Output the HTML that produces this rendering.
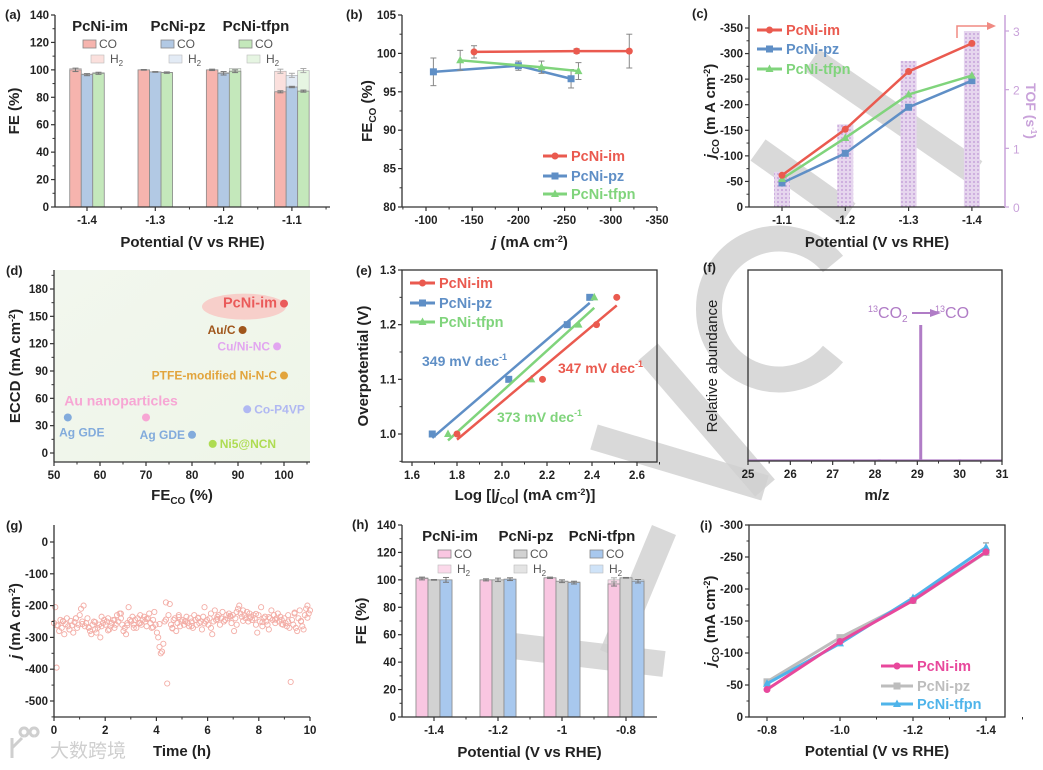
<!DOCTYPE html>
<html><head><meta charset="utf-8"><title>PcNi figure</title>
<style>
html,body{margin:0;padding:0;background:#fff;}
svg{display:block;font-family:"Liberation Sans","Noto Sans CJK SC",sans-serif;}
</style></head>
<body>
<svg id="fig" width="1043" height="770" viewBox="0 0 1043 770" xmlns="http://www.w3.org/2000/svg">
<defs>
<pattern id="dots" width="4" height="4" patternUnits="userSpaceOnUse"><rect width="4" height="4" fill="#e6d6ee"/><circle cx="2" cy="2" r="1" fill="#c6a4da"/></pattern>
<linearGradient id="dbg" x1="0" y1="0" x2="1" y2="1"><stop offset="0" stop-color="#f2f7ee"/><stop offset="1" stop-color="#eef5e8"/></linearGradient>
</defs>
</svg>
<script>
// ---------- data ----------
// (a)
const aCats=['-1.4','-1.3','-1.2','-1.1'];
const aCO_im=[100,100,100,84], aCO_pz=[96.5,98.5,97.5,87.5], aCO_tf=[97.5,98,99,84.5];
const aTot_im=[101,100,100,99], aTot_pz=[97,98.5,98,96], aTot_tf=[98,98.2,101,99.5];
const aErr_im=[2.5,0.5,1,1.5], aErr_pz=[1.5,0.5,2.5,1], aErr_tf=[1.5,1,2,1.5];
// (b)
const bX_im=[-152,-263,-320], bY_im=[100.2,100.3,100.3], bE_im=[0.8,0.3,2.2];
const bX_pz=[-108,-200,-257], bY_pz=[97.6,98.4,96.7], bE_pz=[1.8,0.6,1.2];
const bX_tf=[-137,-225,-265], bY_tf=[99.1,98.2,97.7], bE_tf=[1.3,0.8,1.1];
// (c)
const cCats=['-1.1','-1.2','-1.3','-1.4'];
const cJ_im=[62,152,265,320], cJ_pz=[47,105,195,247], cJ_tf=[55,135,220,257];
const cTOF=[0.6,1.41,2.49,3.0];
// (d)
const dLabels=['PcNi-im','Au/C','Cu/Ni-NC','PTFE-modified Ni-N-C','Au nanoparticles','Co-P4VP','Ag GDE','Ag GDE','Ni5@NCN'];
const dFE=[100,91,98.5,100,70,92,53,80,84.5];
const dECCD=[164,135,117,85,39,48,39,20,10];
// (e)
const eX_im=[1.80,2.18,2.42,2.51], eY_im=[1.0,1.1,1.2,1.25];
const eX_pz=[1.69,2.03,2.29,2.39], eY_pz=[1.0,1.1,1.2,1.25];
const eX_tf=[1.76,2.13,2.34,2.41], eY_tf=[1.0,1.1,1.2,1.25];
// (f)
const fMZ=[25.3,28.1,29.08,30.0], fAb=[0.6,1.2,100,1.2];
// (g)
const gJ=[-255,-205,-395,-262,-280,-245,-270,-250,-290,-258,-240,-265,-275,-248,-262,-285,-252,-240,-270,-260,
-230,-210,-250,-200,-265,-255,-240,-270,-280,-290,-260,-250,-275,-285,-270,-260,-300,-265,-255,-245,
-260,-250,-240,-275,-265,-255,-245,-270,-260,-230,-250,-225,-240,-260,-280,-270,-290,-255,-205,-245,
-250,-235,-260,-245,-270,-240,-255,-230,-260,-245,-235,-250,-265,-240,-225,-255,-270,-245,-220,-260,
-285,-300,-330,-350,-345,-320,-250,-190,-445,-230,-195,-260,-270,-245,-240,-280,-255,-230,-265,-250,
-245,-260,-250,-235,-255,-265,-240,-250,-270,-230,-245,-260,-240,-255,-250,-275,-235,-205,-250,-245,
-260,-240,-225,-290,-250,-215,-245,-235,-230,-260,-240,-220,-250,-245,-230,-240,-225,-235,-255,-230,
-280,-240,-220,-210,-200,-225,-235,-215,-230,-240,-220,-250,-225,-235,-245,-230,-240,-260,-285,-230,
-250,-205,-265,-240,-235,-250,-260,-275,-240,-215,-245,-230,-255,-240,-225,-250,-235,-245,-260,-240,
-255,-265,-250,-270,-440,-245,-260,-225,-270,-280,-240,-215,-250,-265,-275,-230,-210,-200,-225,-215];
const gJ2=[-262,-248,-275,-240,-258,-268,-252,-235,-278,-246,-225,-262,-270,-255,-242,-268,-258,-244,-272,-236,
-248,-264,-238,-256,-270,-242,-250,-232,-260,-248,-240,-226,-252,-236,-244,-258,-230,-222,-248,-238];
// (h)
const hCats=['-1.4','-1.2','-1','-0.8'];
const hCO_im=[101,100,101.5,97], hCO_pz=[100,100,99,101.5], hCO_tf=[100,100.5,98,99];
const hTot_im=[101.5,100,101.5,100], hTot_pz=[100,100,99,101.5], hTot_tf=[100,100.5,98.5,100];
const hErr_im=[2,1.5,1,3], hErr_pz=[0.5,2.5,2,0.5], hErr_tf=[3.5,2,2,2.5];
// (i)
const iCats=['-0.8','-1.0','-1.2','-1.4'];
const iJ_im=[43,118,182,258], iJ_pz=[55,124,182,257], iJ_tf=[52,115,186,265];

// ---------- helpers ----------
const NS='http://www.w3.org/2000/svg';
const svg=document.getElementById('fig');
function mk(tag,attrs,name,parent){
  const e=document.createElementNS(NS,tag);
  for(const k in attrs) e.setAttribute(k,attrs[k]);
  
  
  (parent||svg).appendChild(e);
  return e;
}
function txt(x,y,s,o,name){
  o=o||{};
  const t=mk('text',{x:x,y:y,'font-size':o.fs||11.5,'font-weight':o.fw||'bold',fill:o.fill||'#222','text-anchor':o.anchor||'middle'},name,o.parent);
  if(o.rot) t.setAttribute('transform','rotate('+o.rot+' '+x+' '+y+')');
  t.innerHTML=s;
  return t;
}
function lin(d0,d1,r0,r1){return v=>r0+(v-d0)*(r1-r0)/(d1-d0);}
function line(x1,y1,x2,y2,st,w,name){return mk('line',{x1,y1,x2,y2,stroke:st||'#333','stroke-width':w||1.2},name);}
function yTicks(x,sc,vals,fmt,name,opts){
  opts=opts||{};
  vals.forEach(v=>{const y=sc(v);line(x-4,y,x,y,'#333',1.2,name+'-tick');txt(x-6,y+4,fmt(v),{anchor:'end',fill:opts.fill},name+'-label');});
  if(opts.minor) opts.minor.forEach(v=>{const y=sc(v);line(x-2.5,y,x,y,'#333',1,name+'-minor-tick');});
}
function xTicks(y,sc,vals,fmt,name,opts){
  opts=opts||{};
  vals.forEach(v=>{const x=sc(v);line(x,y,x,y+4,'#333',1.2,name+'-tick');txt(x,y+17,fmt(v),{},name+'-label');});
  if(opts.minor) opts.minor.forEach(v=>{const x=sc(v);line(x,y,x,y+2.5,'#333',1,name+'-minor-tick');});
}
function marker(type,x,y,c,s,name){
  s=s||3.5;
  if(type==='c') return mk('circle',{cx:x,cy:y,r:s,fill:c},name);
  if(type==='s') return mk('rect',{x:x-s,y:y-s,width:2*s,height:2*s,fill:c},name);
  return mk('polygon',{points:`${x},${y-s-1} ${x-s-0.5},${y+s-0.5} ${x+s+0.5},${y+s-0.5}`,fill:c},name);
}
function series(xs,ys,c,type,name,w){
  const pts=xs.map((x,i)=>x+','+ys[i]).join(' ');
  mk('polyline',{points:pts,fill:'none',stroke:c,'stroke-width':w||2.5},name+'-line');
  xs.forEach((x,i)=>marker(type,x,ys[i],c,3.5,name+'-point'));
}
function legendRow(x1,x2,y,c,type,label,name){
  line(x1,y,x2,y,c,3,name+'-swatch');
  marker(type,(x1+x2)/2,y,c,3.5,name+'-marker');
  txt(x2+4,y+5,label,{anchor:'start',fill:c,fs:14.5},name+'-text');
}
function errbar(x,y0,y1,name,c){
  c=c||'#777';
  line(x,y0,x,y1,c,1,name);line(x-3,y0,x+3,y0,c,1,name+'-cap');line(x-3,y1,x+3,y1,c,1,name+'-cap');
}
const RED='#ea5a4f',BLUE='#5f8fc6',GREEN='#80d47c';
const range=(a,b,s)=>{const r=[];for(let v=a;v<=b+1e-9;v+=s)r.push(+v.toFixed(4));return r;};

// ---------- watermark (behind) ----------
const wm={stroke:'#cfcfcf','stroke-opacity':0.8,fill:'none','stroke-width':26};
function wmPath(d,name){return mk('path',Object.assign({d:d},wm),name);}
wmPath('M812,60 L975,172','watermark-stroke');
wmPath('M758,150 L848,214','watermark-stroke');
wmPath('M833,264 A70,70 0 0 0 709,309 A70,70 0 0 0 833,354','watermark-arc');
wmPath('M594,437 L765,488','watermark-stroke');
wmPath('M648,352 L765,488','watermark-stroke');
wmPath('M664,530 L612,655','watermark-stroke');
wmPath('M505,645 L664,664','watermark-stroke');

// ---------- bar panel helper ----------
function barPanel(o){
  const y=lin(0,140,o.bottom,o.top);
  const cx=i=>o.c0+i*o.dc;
  const off=[-o.bw,0,o.bw];
  const sets=[[o.co[0],o.tot[0],o.err[0]],[o.co[1],o.tot[1],o.err[1]],[o.co[2],o.tot[2],o.err[2]]];
  o.cats.forEach((c,i)=>{
    sets.forEach((s,k)=>{
      const x=cx(i)+off[k]-o.bw/2;
      mk('rect',{x:x,y:y(s[1][i]),width:o.bw,height:o.bottom-y(s[1][i]),fill:o.h2[k],stroke:'#aaa','stroke-width':0.6},o.name+'-h2-bar');
      mk('rect',{x:x,y:y(s[0][i]),width:o.bw,height:o.bottom-y(s[0][i]),fill:o.cof[k],stroke:'#8a8a8a','stroke-width':0.8},o.name+'-co-bar');
      errbar(x+o.bw/2,y(s[0][i]+s[2][i]/2),y(s[0][i]-s[2][i]/2),o.name+'-error-bar');
      if(s[1][i]-s[0][i]>2) errbar(x+o.bw/2,y(s[1][i]+1.5),y(s[1][i]-1.5),o.name+'-error-bar','#aaa');
    });
  });
  line(o.left,o.top,o.left,o.bottom,'#333',1.3,o.name+'-y-axis');
  line(o.left,o.bottom,o.right,o.bottom,'#333',1.3,o.name+'-x-axis');
  yTicks(o.left,y,range(0,140,20),v=>v,o.name+'-y',{minor:range(10,130,20)});
  o.cats.forEach((c,i)=>{line(cx(i),o.bottom,cx(i),o.bottom+4,'#333',1.2,o.name+'-x-tick');txt(cx(i),o.bottom+17,c,{},o.name+'-x-label');});
  [0,1,2,3,4].forEach(i=>{const xm=cx(i)-o.dc/2;if(xm>o.left&&xm<o.right)line(xm,o.bottom,xm,o.bottom+2.5,'#333',1,o.name+'-x-minor-tick');});
  const names=['PcNi-im','PcNi-pz','PcNi-tfpn'];
  names.forEach((n,k)=>{
    const gx=o.lgx+k*o.lgdx;
    txt(gx+o.titleDx,o.top+16,n,{fs:15},o.name+'-legend-title');
    mk('rect',{x:gx,y:o.top+25,width:13,height:8,fill:o.cof[k],stroke:'#888','stroke-width':0.8},o.name+'-legend-co-swatch');
    txt(gx+16,o.top+33,'CO',{anchor:'start',fw:'normal',fs:12,fill:'#555'},o.name+'-legend-co-text');
    mk('rect',{x:gx+(o.h2dx||0),y:o.top+40,width:13,height:8,fill:o.h2[k],stroke:'#bbb','stroke-width':0.6},o.name+'-legend-h2-swatch');
    txt(gx+(o.h2dx||0)+19,o.top+48,'H<tspan font-size="8" dy="3">2</tspan>',{anchor:'start',fw:'normal',fs:12,fill:'#555'},o.name+'-legend-h2-text');
  });
  txt(o.left-50,o.top+4,o.label,{anchor:'start',fs:13},o.name+'-panel-label');
  txt(o.left-36,(o.top+o.bottom)/2,'FE (%)',{rot:-90,fs:15},o.name+'-y-title');
  txt((o.left+o.right)/2,o.bottom+40,'Potential (V vs RHE)',{fs:15},o.name+'-x-title');
}

// ---------- (a) ----------
barPanel({name:'panel-a',label:'(a)',left:55,right:330,top:15,bottom:207,c0:87,dc:68.3,bw:11.5,cats:aCats,
  co:[aCO_im,aCO_pz,aCO_tf],tot:[aTot_im,aTot_pz,aTot_tf],err:[aErr_im,aErr_pz,aErr_tf],
  cof:['#f6b4ae','#b2c9e4','#c4e8bb'],h2:['#fbe0dd','#e3ebf5','#e6f5e2'],lgx:83,lgdx:78,titleDx:17,h2dx:8});

// ---------- (b) ----------
(function(){
  const L=402,R=657,T=15,B=207;
  const x=lin(-100,-350,426,657), y=lin(80,105,B,T);
  [[bX_pz,bY_pz,bE_pz,BLUE,'s','pz'],[bX_tf,bY_tf,bE_tf,GREEN,'t','tfpn'],[bX_im,bY_im,bE_im,RED,'c','im']].forEach(s=>{
    s[0].forEach((v,i)=>errbar(x(v),y(s[1][i]+s[2][i]),y(s[1][i]-s[2][i]),'panel-b-error-bar','#888'));
    series(s[0].map(x),s[1].map(y),s[3],s[4],'panel-b-'+s[5]);
  });
  line(L,T,L,B,'#333',1.3,'panel-b-y-axis');line(L,B,R,B,'#333',1.3,'panel-b-x-axis');
  yTicks(L,y,range(80,105,5),v=>v,'panel-b-y',{minor:range(82.5,102.5,5)});
  xTicks(B,x,range(-350,-100,50),v=>v,'panel-b-x',{minor:range(-325,-75,50)});
  legendRow(543,567,156,RED,'c','PcNi-im','panel-b-legend-im');
  legendRow(543,567,176,BLUE,'s','PcNi-pz','panel-b-legend-pz');
  legendRow(543,567,194,GREEN,'t','PcNi-tfpn','panel-b-legend-tfpn');
  txt(346,19,'(b)',{anchor:'start',fs:13},'panel-b-label');
  txt(372,111,'FE<tspan font-size="10" dy="4">CO</tspan><tspan dy="-4"> (%)</tspan>',{rot:-90,fs:15},'panel-b-y-title');
  txt(530,247,'<tspan font-style="italic">j</tspan> (mA cm<tspan font-size="9" dy="-5">-2</tspan><tspan dy="5">)</tspan>',{fs:15},'panel-b-x-title');
})();

// ---------- (c) ----------
(function(){
  const L=749,R=1005,T=15,B=207;
  const y=lin(0,350,B,28), yt=lin(0,3,B,31);
  const cx=i=>782+i*63.3;
  cTOF.forEach((v,i)=>mk('rect',{x:cx(i)-8,y:yt(v),width:16,height:B-yt(v),fill:'url(#dots)'},'panel-c-tof-bar'));
  series(cJ_pz.map((v,i)=>cx(i)),cJ_pz.map(y),BLUE,'s','panel-c-pz');
  series(cJ_tf.map((v,i)=>cx(i)),cJ_tf.map(y),GREEN,'t','panel-c-tfpn');
  series(cJ_im.map((v,i)=>cx(i)),cJ_im.map(y),RED,'c','panel-c-im');
  line(L,T,L,B,'#333',1.3,'panel-c-y-axis');line(L,B,R,B,'#333',1.3,'panel-c-x-axis');
  line(R,T,R,B,'#c9a2da',1.5,'panel-c-right-axis');
  yTicks(L,y,range(0,350,50),v=>v?'-'+v:'0','panel-c-y',{minor:range(25,325,50)});
  [0,1,2,3].forEach(v=>{line(R,yt(v),R+4,yt(v),'#c9a2da',1.2,'panel-c-tof-tick');txt(R+8,yt(v)+5,v,{anchor:'start',fill:'#c9a2da',fs:12,fw:'normal'},'panel-c-tof-label');});
  cCats.forEach((c,i)=>{line(cx(i),B,cx(i),B+4,'#333',1.2,'panel-c-x-tick');txt(cx(i),B+17,c,{},'panel-c-x-label');});
  legendRow(757,782,30,RED,'c','PcNi-im','panel-c-legend-im');
  legendRow(757,782,49,BLUE,'s','PcNi-pz','panel-c-legend-pz');
  legendRow(757,782,69,GREEN,'t','PcNi-tfpn','panel-c-legend-tfpn');
  mk('path',{d:'M957,38 L957,26 L990,26',fill:'none',stroke:'#f08a82','stroke-width':1.5},'panel-c-axis-arrow');
  mk('polygon',{points:'996,26 987,22 987,30',fill:'#f08a82'},'panel-c-axis-arrow-head');
  txt(692,18,'(c)',{anchor:'start',fs:13},'panel-c-label');
  txt(715,111,'<tspan font-style="italic">j</tspan><tspan font-size="10" dy="4">CO</tspan><tspan dy="-4"> (m A cm</tspan><tspan font-size="9" dy="-5">-2</tspan><tspan dy="5">)</tspan>',{rot:-90,fs:15},'panel-c-y-title');
  txt(1026,111,'TOF (s<tspan font-size="8" dy="-5">-1</tspan><tspan dy="5">)</tspan>',{rot:90,fs:14,fill:'#c9a2da'},'panel-c-tof-title');
  txt(877,247,'Potential (V vs RHE)',{fs:15},'panel-c-x-title');
})();

// ---------- (d) ----------
(function(){
  const L=54,R=310,T=270,B=462;
  mk('rect',{x:L,y:T,width:R-L,height:B-T,fill:'url(#dbg)'},'panel-d-background');
  const x=lin(50,100,54,284), y=lin(0,180,453,289);
  const cols=['#ea5a5a','#a0561c','#e2a6f0','#e2a43c','#f7a6d4','#b0b8f2','#82abdc','#82abdc','#aedc52'];
  const side=['l','l','l','l','a','r','b','l','r'];
  const fs=[14.5,12,12,12,14,12,12,12,12];
  mk('ellipse',{cx:x(dFE[0])-40,cy:y(dECCD[0])+3,rx:42,ry:13,fill:'#f7cfca'},'panel-d-highlight');
  dLabels.forEach((lab,i)=>{
    const px=x(dFE[i]),py=y(dECCD[i]);
    mk('circle',{cx:px,cy:py,r:4,fill:cols[i]},'panel-d-point');
    let tx=px,ty=py+4,an='end';
    if(side[i]==='l'){tx=px-7;} else if(side[i]==='r'){tx=px+7;an='start';}
    else if(side[i]==='b'){tx=px+14;ty=py+19;an='middle';} else {tx=px-25;ty=py-12;an='middle';}
    txt(tx,ty,lab,{anchor:an,fill:cols[i],fs:fs[i]},'panel-d-point-label');
  });
  line(L,T,L,B,'#333',1.3,'panel-d-y-axis');line(L,B,R,B,'#333',1.3,'panel-d-x-axis');
  yTicks(L,y,range(0,180,30),v=>v,'panel-d-y',{minor:range(15,195,30)});
  xTicks(B,x,range(50,100,10),v=>v,'panel-d-x',{minor:range(55,105,10)});
  txt(6,275,'(d)',{anchor:'start',fs:13},'panel-d-label');
  txt(20,366,'ECCD (mA cm<tspan font-size="9" dy="-5">-2</tspan><tspan dy="5">)</tspan>',{rot:-90,fs:15},'panel-d-y-title');
  txt(182,500,'FE<tspan font-size="10" dy="4">CO</tspan><tspan dy="-4"> (%)</tspan>',{fs:15},'panel-d-x-title');
})();

// ---------- (e) ----------
(function(){
  const L=402,R=657,T=270,B=462;
  const x=lin(1.6,2.6,412,637), y=lin(1.0,1.3,434,270);
  function fit(xs,ys){const n=xs.length,mx=xs.reduce((a,b)=>a+b)/n,my=ys.reduce((a,b)=>a+b)/n;let sxy=0,sxx=0;xs.forEach((v,i)=>{sxy+=(v-mx)*(ys[i]-my);sxx+=(v-mx)*(v-mx);});const k=sxy/sxx;return v=>my+k*(v-mx);}
  [[eX_pz,eY_pz,BLUE,'s','pz'],[eX_tf,eY_tf,GREEN,'t','tfpn'],[eX_im,eY_im,RED,'c','im']].forEach(s=>{
    const f=fit(s[0],s[1]);const x0=Math.min(...s[0]),x1=Math.max(...s[0]);
    line(x(x0),y(f(x0)),x(x1),y(f(x1)),s[2],2.5,'panel-e-fit-'+s[4]);
    s[0].forEach((v,i)=>marker(s[3],x(v),y(s[1][i]),s[2],3.5,'panel-e-'+s[4]+'-point'));
  });
  mk('rect',{x:L,y:T,width:R-L,height:B-T,fill:'none',stroke:'#333','stroke-width':1.3},'panel-e-frame');
  yTicks(L,y,[1.0,1.1,1.2,1.3],v=>v.toFixed(1),'panel-e-y',{minor:[0.95,1.05,1.15,1.25]});
  xTicks(B,x,range(1.6,2.6,0.2),v=>v.toFixed(1),'panel-e-x',{minor:range(1.7,2.7,0.2)});
  legendRow(410,435,283,RED,'c','PcNi-im','panel-e-legend-im');
  legendRow(410,435,303,BLUE,'s','PcNi-pz','panel-e-legend-pz');
  legendRow(410,435,322,GREEN,'t','PcNi-tfpn','panel-e-legend-tfpn');
  const sup='<tspan font-size="9" dy="-6">-1</tspan>';
  txt(422,366,'349 mV dec'+sup,{anchor:'start',fill:BLUE,fs:14},'panel-e-slope-pz');
  txt(558,373,'347 mV dec'+sup,{anchor:'start',fill:RED,fs:14},'panel-e-slope-im');
  txt(497,422,'373 mV dec'+sup,{anchor:'start',fill:GREEN,fs:14},'panel-e-slope-tfpn');
  txt(356,275,'(e)',{anchor:'start',fs:13},'panel-e-label');
  txt(368,366,'Overpotential (V)',{rot:-90,fs:15},'panel-e-y-title');
  txt(525,500,'Log [|<tspan font-style="italic">j</tspan><tspan font-size="10" dy="4">CO</tspan><tspan dy="-4">| (mA cm</tspan><tspan font-size="9" dy="-5">-2</tspan><tspan dy="5">)]</tspan>',{fs:15},'panel-e-x-title');
})();

// ---------- (f) ----------
(function(){
  const L=748,R=1002,T=270,B=461;
  const x=lin(25,31,L,R), y=lin(0,100,B,325);
  line(L,B-1,R,B-1,'#b07cc6',1.2,'panel-f-baseline');
  fMZ.forEach((m,i)=>line(x(m),B,x(m),y(fAb[i]),'#b07cc6',3,'panel-f-peak'));
  mk('rect',{x:L,y:T,width:R-L,height:B-T,fill:'none',stroke:'#333','stroke-width':1.3},'panel-f-frame');
  xTicks(B,x,range(25,31,1),v=>v,'panel-f-x',{minor:range(25.5,30.5,1)});
  txt(868,318,'<tspan font-size="9" dy="-6">13</tspan><tspan dy="6">CO</tspan><tspan font-size="10" dy="4">2</tspan>',{anchor:'start',fill:'#b07cc6',fw:'normal',fs:16},'panel-f-annotation-from');
  line(912,313,932,313,'#b07cc6',2,'panel-f-annotation-arrow');
  mk('polygon',{points:'941,313 930,309 930,317',fill:'#b07cc6'},'panel-f-annotation-arrowhead');
  txt(935,318,'<tspan font-size="9" dy="-6">13</tspan><tspan dy="6">CO</tspan>',{anchor:'start',fill:'#b07cc6',fw:'normal',fs:16},'panel-f-annotation-to');
  txt(703,272,'(f)',{anchor:'start',fs:13},'panel-f-label');
  txt(717,366,'Relative abundance',{rot:-90,fs:15,fw:'normal'},'panel-f-y-title');
  txt(877,500,'m/z',{fs:15},'panel-f-x-title');
})();

// ---------- (g) ----------
(function(){
  const L=54,R=310,T=525,B=717;
  const x=lin(0,10,L,R), y=lin(0,-500,542,701);
  const n=gJ.length;
  gJ.forEach((v,i)=>mk('circle',{cx:x(i*10/(n-1)),cy:y(v),r:2.6,fill:'none',stroke:'#f3ada6','stroke-width':0.9},'panel-g-point'));
  const m=gJ2.length;
  gJ2.forEach((v,i)=>mk('circle',{cx:x(0.1+i*9.8/(m-1)),cy:y(v),r:2.6,fill:'none',stroke:'#f3ada6','stroke-width':0.9},'panel-g-point'));
  line(L,T,L,B,'#333',1.3,'panel-g-y-axis');line(L,B,R,B,'#333',1.3,'panel-g-x-axis');
  yTicks(L,y,range(-500,0,100),v=>v,'panel-g-y',{minor:range(-550,-50,100)});
  xTicks(B,x,range(0,10,2),v=>v,'panel-g-x',{minor:range(1,9,2)});
  txt(6,530,'(g)',{anchor:'start',fs:13},'panel-g-label');
  txt(20,621,'<tspan font-style="italic">j</tspan> (mA cm<tspan font-size="9" dy="-5">-2</tspan><tspan dy="5">)</tspan>',{rot:-90,fs:15},'panel-g-y-title');
  txt(182,756,'Time (h)',{fs:15},'panel-g-x-title');
  mk('path',{d:'M12,738 L12,758 M12,748 L22,738 M24,736 a4,4 0 1 1 0.1,0 M34,736 a4,4 0 1 1 0.1,0',fill:'none',stroke:'#cfcfcf','stroke-width':3},'watermark-logo');
  txt(50,757,'大数跨境',{anchor:'start',fill:'#cfcfcf',fs:19,fw:'normal'},'watermark-text');
})();

// ---------- (h) ----------
barPanel({name:'panel-h',label:'(h)',left:402,right:657,top:525,bottom:717,c0:434,dc:64,bw:12,cats:hCats,
  co:[hCO_im,hCO_pz,hCO_tf],tot:[hTot_im,hTot_pz,hTot_tf],err:[hErr_im,hErr_pz,hErr_tf],
  cof:['#f9c6e1','#d2d2d2','#a8c8ee'],h2:['#fbd9ea','#e4e4e4','#cfe3f8'],lgx:438,lgdx:76,titleDx:12,h2dx:0});

// ---------- (i) ----------
(function(){
  const L=749,R=1005,T=525,B=717;
  const y=lin(0,300,B,525);
  const cx=i=>767+i*73;
  errbar(cx(3),y(272),y(258),'panel-i-error-bar','#888');
  series(iJ_pz.map((v,i)=>cx(i)),iJ_pz.map(y),'#bdbdbd','s','panel-i-pz',3);
  series(iJ_tf.map((v,i)=>cx(i)),iJ_tf.map(y),'#4fb4ea','t','panel-i-tfpn',3);
  series(iJ_im.map((v,i)=>cx(i)),iJ_im.map(y),'#e8489c','c','panel-i-im',3);
  mk('rect',{x:L,y:T,width:R-L,height:B-T,fill:'none',stroke:'#333','stroke-width':1.3},'panel-i-frame');
  yTicks(L,y,range(0,300,50),v=>v?'-'+v:'0','panel-i-y',{minor:range(25,275,50)});
  iCats.forEach((c,i)=>{line(cx(i),B,cx(i),B+4,'#333',1.2,'panel-i-x-tick');txt(cx(i),B+17,c,{},'panel-i-x-label');});
  [0,1,2,3].forEach(i=>line(cx(i)+36.5,B,cx(i)+36.5,B+2.5,'#333',1,'panel-i-x-minor-tick'));
  legendRow(881,913,666,'#e8489c','c','PcNi-im','panel-i-legend-im');
  legendRow(881,913,686,'#bdbdbd','s','PcNi-pz','panel-i-legend-pz');
  legendRow(881,913,704,'#4fb4ea','t','PcNi-tfpn','panel-i-legend-tfpn');
  txt(700,530,'(i)',{anchor:'start',fs:13},'panel-i-label');
  txt(715,621,'<tspan font-style="italic">j</tspan><tspan font-size="10" dy="4">CO</tspan><tspan dy="-4"> (mA cm</tspan><tspan font-size="9" dy="-5">-2</tspan><tspan dy="5">)</tspan>',{rot:-90,fs:15},'panel-i-y-title');
  txt(877,756,'Potential (V vs RHE)',{fs:15},'panel-i-x-title');
})();
</script>
</body></html>
